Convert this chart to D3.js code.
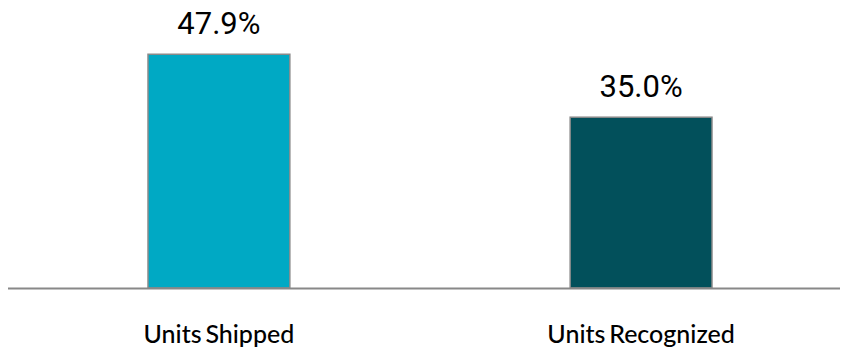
<!DOCTYPE html>
<html><head><meta charset="utf-8">
<script src="https://cdn.jsdelivr.net/npm/d3@7"></script>
<style>body{margin:0;background:#fff}svg{display:block}</style>
</head><body>
<svg id="c" width="841" height="352"></svg>
<script>
const categories = ["Units Shipped", "Units Recognized"];
const values = [47.9, 35.0];
const valueLabels = ["47.9%", "35.0%"];
const colors = ["#00a9c4", "#02505b"];

const svg = d3.select("#c");
const x = d3.scaleBand().domain(categories).range([7, 853]).paddingInner(0.664).paddingOuter(0.334);
const y = d3.scaleLinear().domain([0, 50]).range([288, 44]);

svg.selectAll("rect.bar").data(values).enter().append("rect")
  .attr("class","bar")
  .attr("x",(d,i)=>x(categories[i]))
  .attr("y",d=>y(d))
  .attr("width",x.bandwidth())
  .attr("height",d=>y(0)-y(d))
  .attr("fill",(d,i)=>colors[i])
  .attr("stroke","#8a8a8a").attr("stroke-width",1.5);

svg.append("line").attr("x1",8).attr("x2",840).attr("y1",288.5).attr("y2",288.5)
  .attr("stroke","#888").attr("stroke-width",2);

svg.selectAll("text.val").data(values).enter().append("text")
  .attr("class","val")
  .attr("x",(d,i)=>x(categories[i])+x.bandwidth()/2)
  .attr("y",d=>y(d)-20)
  .attr("text-anchor","middle")
  .attr("font-family","Roboto, sans-serif").attr("font-size",31).attr("fill","#000")
  .text((d,i)=>valueLabels[i]);

svg.selectAll("text.cat").data(categories).enter().append("text")
  .attr("class","cat")
  .attr("x",d=>x(d)+x.bandwidth()/2)
  .attr("y",343)
  .attr("text-anchor","middle")
  .attr("font-family","Lato, sans-serif").attr("font-size",25).attr("font-weight",500)
  .attr("word-spacing",-2.5)
  .attr("fill","#000")
  .text(d=>d);
</script>
</body></html>
